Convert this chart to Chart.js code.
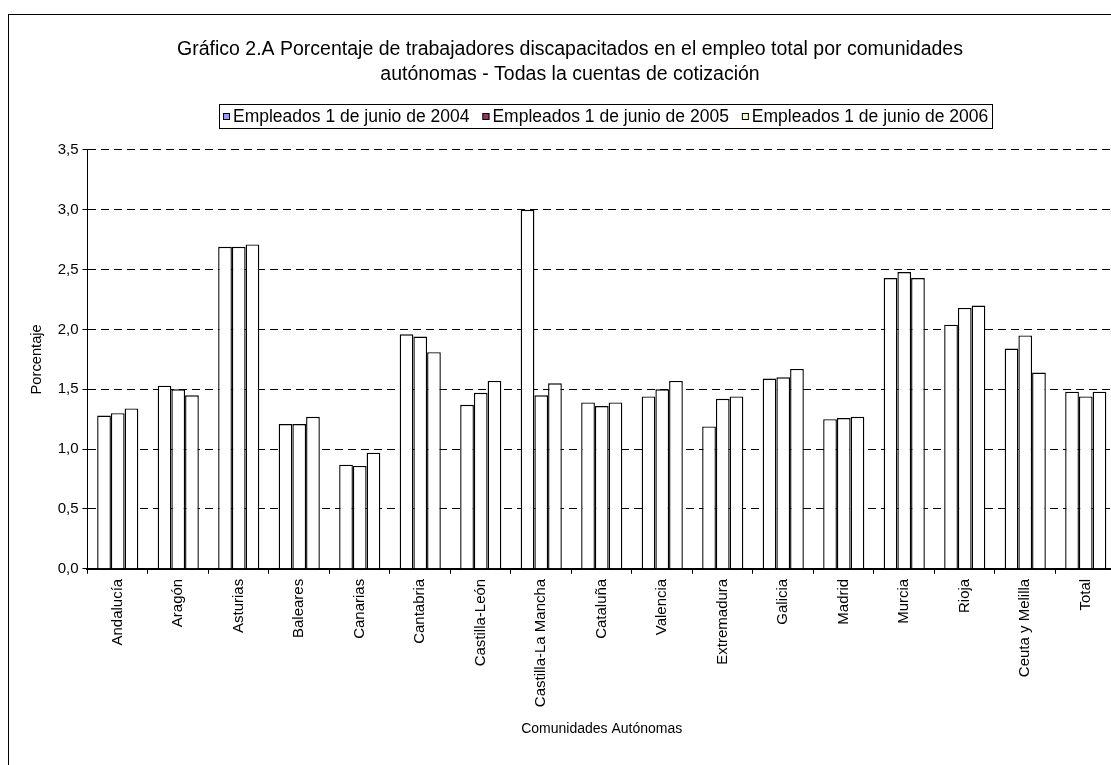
<!DOCTYPE html>
<html>
<head>
<meta charset="utf-8">
<script src="https://cdn.jsdelivr.net/npm/chart.js@4"></script>
<style>
  html, body { margin: 0; padding: 0; background: #fff; overflow: hidden; }
  #wrap { position: absolute; left: 0; top: 0; width: 1128px; height: 765px; }
</style>
</head>
<body>
<div id="wrap"><canvas id="grafico"></canvas></div>
<script>
// === DATOS ===
const comunidades = [
  "Andalucía", "Aragón", "Asturias", "Baleares", "Canarias", "Cantabria",
  "Castilla-León", "Castilla-La Mancha", "Cataluña", "Valencia", "Extremadura",
  "Galicia", "Madrid", "Murcia", "Rioja", "Ceuta y Melilla", "Total"
];
const empleados2004 = [1.28, 1.53, 2.69, 1.21, 0.87, 1.96, 1.37, 3.00, 1.39, 1.44, 1.19, 1.59, 1.25, 2.43, 2.04, 1.84, 1.48];
const empleados2005 = [1.30, 1.50, 2.69, 1.21, 0.86, 1.94, 1.47, 1.45, 1.36, 1.50, 1.42, 1.60, 1.26, 2.48, 2.18, 1.95, 1.44];
const empleados2006 = [1.34, 1.45, 2.71, 1.27, 0.97, 1.81, 1.57, 1.55, 1.39, 1.57, 1.44, 1.67, 1.27, 2.43, 2.20, 1.64, 1.48];
const nombresSeries = ["Empleados 1 de junio de 2004", "Empleados 1 de junio de 2005", "Empleados 1 de junio de 2006"];
const coloresLeyenda = ["#9999FF", "#993366", "#FFFFCC"];

const fuente = "Arial, 'Liberation Sans', sans-serif";

// marco exterior + leyenda en recuadro (centrada sobre el área de trazado)
const marcos = {
  id: "marcos",
  afterDraw(chart) {
    const ctx = chart.ctx;
    const area = chart.chartArea;
    ctx.save();
    ctx.strokeStyle = "#000";
    ctx.lineWidth = 1;
    ctx.strokeRect(8.5, 14.5, 2000, 2000);

    ctx.font = "17.5px " + fuente;
    ctx.textBaseline = "middle";
    const cuadro = 7, hueco = 3, sep = 13, margen = 4;
    const anchos = nombresSeries.map(t => ctx.measureText(t).width);
    const total = anchos.reduce((a, b) => a + b, 0) + nombresSeries.length * (cuadro + hueco) + (nombresSeries.length - 1) * sep + 2 * margen;
    const izq = Math.round((area.left + area.right) / 2 - total / 2 + 4);
    const yc = Math.round(area.top - 34);
    const arr = yc - 12;
    ctx.strokeRect(izq + 0.5, arr + 0.5, Math.round(total), 24);

    let x = izq + margen;
    nombresSeries.forEach((t, i) => {
      ctx.fillStyle = coloresLeyenda[i];
      ctx.fillRect(x, Math.round(yc - cuadro / 2), cuadro, cuadro);
      ctx.strokeRect(x + 0.5, Math.round(yc - cuadro / 2) + 0.5, cuadro - 1, cuadro - 1);
      ctx.fillStyle = "#000";
      ctx.fillText(t, x + cuadro + hueco, yc + 1);
      x += cuadro + hueco + anchos[i] + sep;
    });
    ctx.restore();
  }
};

const series = [empleados2004, empleados2005, empleados2006].map((datos, i) => ({
  label: nombresSeries[i],
  data: datos,
  backgroundColor: "#fff",
  borderColor: "#000",
  borderWidth: 1.4,
  barPercentage: 1,
  categoryPercentage: 0.68
}));

new Chart(document.getElementById("grafico"), {
  type: "bar",
  data: { labels: comunidades, datasets: series },
  options: {
    responsive: true,
    maintainAspectRatio: false,
    animation: false,
    layout: { padding: { top: 37, left: 24, right: 12, bottom: 23 } },
    plugins: {
      tooltip: { enabled: false },
      legend: { display: false },
      title: {
        display: true,
        text: [
          "Gráfico 2.A Porcentaje de trabajadores discapacitados en el empleo total por comunidades",
          "autónomas - Todas la cuentas de cotización"
        ],
        color: "#000",
        font: { family: fuente, size: 19.5, weight: "normal", lineHeight: 1.28 },
        padding: { top: 0, bottom: 63 }
      }
    },
    scales: {
      x: {
        grid: { drawOnChartArea: false, drawTicks: true, tickLength: 5, tickColor: "#000", offset: true },
        border: { color: "#000", width: 2 },
        ticks: { color: "#000", font: { family: fuente, size: 15 }, maxRotation: 90, minRotation: 90, padding: 5 },
        title: { display: true, text: "Comunidades Autónomas", color: "#000", font: { family: fuente, size: 14, lineHeight: 1.2 }, padding: { top: 9, bottom: 4 } }
      },
      y: {
        min: 0,
        max: 3.5,
        ticks: {
          stepSize: 0.5,
          color: "#000",
          font: { family: fuente, size: 15 },
          padding: 4,
          callback: (v) => v.toFixed(1).replace(".", ",")
        },
        grid: { color: "#000", lineWidth: 1, tickLength: 5, tickColor: "#000" },
        border: { color: "#000", width: 1, dash: [8, 5] },
        title: { display: true, text: "Porcentaje", color: "#000", font: { family: fuente, size: 14.7, lineHeight: 1.2 }, padding: { top: 4, bottom: 8 } }
      }
    }
  },
  plugins: [marcos]
});
</script>
</body>
</html>
